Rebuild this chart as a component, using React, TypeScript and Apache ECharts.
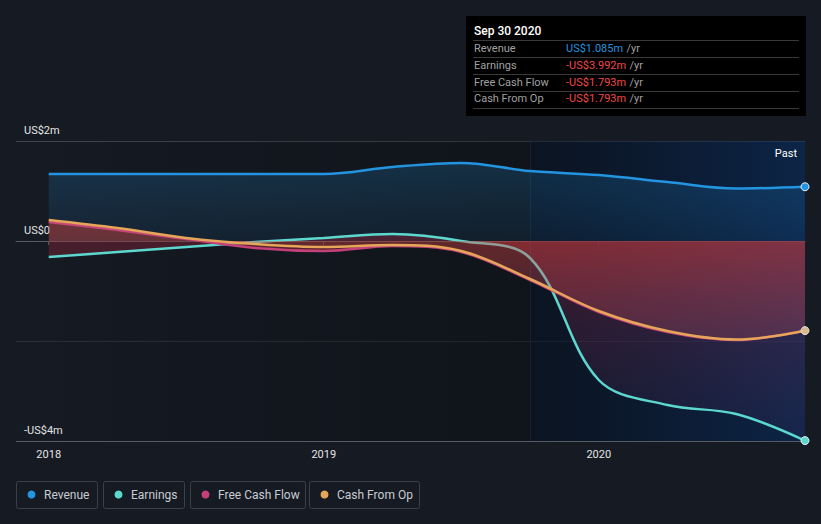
import React, { useEffect, useRef } from 'react';
import * as echarts from 'echarts';

// ---- data ----
const quarters = [2018, 2018.25, 2018.5, 2018.75, 2019, 2019.25, 2019.5, 2019.75, 2020, 2020.25, 2020.5, 2020.75];
const revenue = [1.34, 1.34, 1.34, 1.34, 1.34, 1.48, 1.56, 1.40, 1.32, 1.18, 1.05, 1.085];
const earnings = [-0.32, -0.22, -0.12, -0.02, 0.06, 0.14, 0.0, -0.34, -2.78, -3.28, -3.46, -3.992];
const freeCashFlow = [0.38, 0.22, 0.04, -0.14, -0.2, -0.1, -0.22, -0.78, -1.42, -1.82, -1.98, -1.793];
const cashFromOp = [0.42, 0.26, 0.06, -0.06, -0.12, -0.08, -0.2, -0.76, -1.4, -1.8, -1.97, -1.793];
const yearTicks = [2018, 2019, 2020];
const yLabelText: Record<string, string> = { '2': 'US$2m', '0': 'US$0', '-4': '-US$4m' };
const pastStart = 2019.75;
const tooltipTitle = 'Sep 30 2020';
const tooltipNames = ['Revenue', 'Earnings', 'Free Cash Flow', 'Cash From Op'];
const tooltipValues = ['US$1.085m', '-US$3.992m', '-US$1.793m', '-US$1.793m'];
const seriesNames = ['Revenue', 'Earnings', 'Free Cash Flow', 'Cash From Op'];
const seriesColors = ['#2394df', '#5cd8cf', '#c4407a', '#e6a65a'];

const X_MIN = 2017.881;
const X_MAX = 2020.75;
const FONT = 'Roboto, "Noto Sans", sans-serif';

function pts(vals: number[]) {
  return quarters.map((q, i) => [q, vals[i]]);
}

const vGrad = (a: string, b: string) =>
  new echarts.graphic.LinearGradient(0, 0, 0, 1, [
    { offset: 0, color: a },
    { offset: 1, color: b },
  ]);
const hGrad = (a: string, b: string) =>
  new echarts.graphic.LinearGradient(0, 0, 1, 0, [
    { offset: 0, color: a },
    { offset: 1, color: b },
  ]);

export default function App() {
  const ref = useRef<HTMLDivElement>(null);
  useEffect(() => {
    if (!ref.current) return;
    const chart = echarts.init(ref.current, undefined, { renderer: 'svg' });
    const last = quarters.length - 1;
    const endSymbol = (_v: any, p: any) => (p.dataIndex === last ? 8 : 0);

    const baseLine = (idx: number, vals: number[], area: any, z: number, extra: any = {}) => ({
      type: 'line',
      name: seriesNames[idx],
      data: pts(vals),
      smooth: 0.35,
      z,
      symbol: 'circle',
      symbolSize: endSymbol,
      showSymbol: true,
      showAllSymbol: true,
      clip: false,
      lineStyle: { color: seriesColors[idx], width: 2.5 },
      itemStyle: { color: seriesColors[idx], borderColor: '#e8eef4', borderWidth: 1 },
      areaStyle: area,
      emphasis: { disabled: true },
      ...extra,
    });

    const graphic: any[] = [];
    // tooltip box
    graphic.push({ type: 'rect', shape: { x: 466, y: 16, width: 340, height: 100 }, style: { fill: '#000000' }, z: 100 });
    graphic.push({
      type: 'text', x: 474, y: 31, z: 101,
      style: { text: tooltipTitle, fill: '#ffffff', fontSize: 12, fontWeight: 500, fontFamily: FONT, verticalAlign: 'middle' },
    });
    [40.5, 57.5, 74.5, 91.5, 108.5].forEach((y) => {
      graphic.push({ type: 'line', z: 101, shape: { x1: 473, y1: y, x2: 799, y2: y }, style: { stroke: '#3a3a3a', lineWidth: 1 } });
    });
    tooltipNames.forEach((n, i) => {
      const y = 48.5 + i * 16.8;
      graphic.push({
        type: 'text', x: 474, y, z: 101,
        style: { text: n, fill: '#a0a0a0', fontSize: 11, fontFamily: FONT, verticalAlign: 'middle' },
      });
      const valColor = i === 0 ? '#2394df' : '#f04848';
      graphic.push({
        type: 'text', x: 566, y, z: 101,
        style: {
          text: `{v|${tooltipValues[i]}} {u|/yr}`,
          verticalAlign: 'middle',
          rich: {
            v: { fill: valColor, fontSize: 11, fontFamily: FONT },
            u: { fill: '#a0a0a0', fontSize: 11, fontFamily: FONT },
          },
        },
      });
    });
    // Past label
    graphic.push({
      type: 'text', x: 797, y: 153, z: 50,
      style: { text: 'Past', fill: '#ffffff', fontSize: 11, fontFamily: FONT, align: 'right', verticalAlign: 'middle' },
    });
    // legend
    const legendBoxes = [
      [16, 81], [103, 81], [190, 115], [309, 110],
    ];
    seriesNames.forEach((n, i) => {
      const [bx, bw] = legendBoxes[i];
      graphic.push({
        type: 'rect', shape: { x: bx + 0.5, y: 481.5, width: bw, height: 27, r: 2 },
        style: { fill: 'transparent', stroke: '#3a3f48', lineWidth: 1 },
      });
      graphic.push({ type: 'circle', shape: { cx: bx + 15.5, cy: 494.5, r: 4 }, style: { fill: seriesColors[i] } });
      graphic.push({
        type: 'text', x: bx + 28, y: 494.5,
        style: { text: n, fill: '#c8ccd2', fontSize: 12, fontFamily: FONT, verticalAlign: 'middle' },
      });
    });

    chart.setOption({
      animation: false,
      backgroundColor: '#151a23',
      textStyle: { fontFamily: FONT },
      grid: { left: 16, right: 16, top: 141, bottom: 83, containLabel: false },
      xAxis: {
        type: 'value',
        min: X_MIN,
        max: X_MAX,
        axisLine: { show: true, lineStyle: { color: '#555a63', width: 1 } },
        axisTick: { show: true, customValues: yearTicks, length: 4, lineStyle: { color: '#555a63' } },
        axisLabel: {
          customValues: yearTicks,
          formatter: (v: number) => String(Math.round(v)),
          color: '#e6e6e6', fontSize: 11, margin: 8, fontFamily: FONT,
        },
        splitLine: { show: false },
      },
      yAxis: {
        type: 'value',
        min: -4,
        max: 2,
        interval: 2,
        axisLine: { show: false },
        axisTick: { show: false },
        axisLabel: {
          inside: true,
          margin: 8,
          verticalAlign: 'bottom',
          padding: [0, 0, 5, 0],
          color: '#e6e6e6',
          fontSize: 11,
          fontFamily: FONT,
          formatter: (v: number) => yLabelText[String(v)] ?? '',
        },
        splitLine: { show: true, lineStyle: { color: ['#555a63', '#2a2f37', '#d8d8d8', '#40454d'], width: 1 } },
      },
      series: [
        baseLine(0, revenue, { color: vGrad('rgba(35,148,223,0.3)', 'rgba(35,148,223,0.12)') }, 2, {
          markArea: {
            silent: true,
            data: [
              [
                { xAxis: X_MIN, yAxis: 2, itemStyle: { color: hGrad('rgba(0,0,0,0)', 'rgba(0,0,0,0.25)') } },
                { xAxis: pastStart, yAxis: -4 },
              ],
              [
                { xAxis: pastStart, yAxis: 2, itemStyle: { color: hGrad('rgba(0,12,30,0.45)', 'rgba(5,45,100,0.55)') } },
                { xAxis: X_MAX, yAxis: -4 },
              ],
            ],
          },
          markLine: {
            silent: true,
            symbol: 'none',
            label: { show: false },
            lineStyle: { color: 'rgba(70,110,160,0.16)', width: 1, type: 'solid' },
            data: [{ xAxis: pastStart }],
          },
        }),
        baseLine(1, earnings, { color: vGrad('rgba(200,40,60,0.42)', 'rgba(140,60,140,0.1)') }, 3),
        baseLine(2, freeCashFlow, {
          color: vGrad('rgba(230,50,55,0.55)', 'rgba(180,50,110,0.28)'),
        }, 4, { symbolSize: 0 }),
        baseLine(3, cashFromOp, { color: 'rgba(233,169,90,0.1)' }, 5, {
          itemStyle: { color: '#d9b98f', borderColor: '#e8e0d4', borderWidth: 1 },
        }),
      ],
      graphic,
    });
    return () => chart.dispose();
  }, []);
  return (
    <div
      ref={ref}
      style={{ position: 'fixed', left: 0, top: 0, width: 821, height: 524, background: '#151a23' }}
    />
  );
}
